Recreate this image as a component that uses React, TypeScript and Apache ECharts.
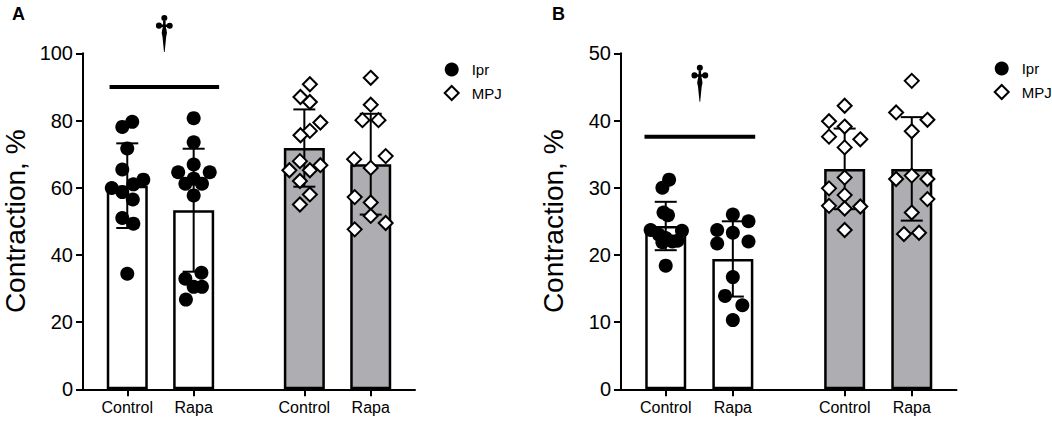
import React, { useEffect, useRef } from 'react';
import * as echarts from 'echarts';

const FONT = '"Liberation Sans", Arial, Helvetica, sans-serif';
const GRAY = '#adadb2';

// x categories (tick labels) and their positions on the x value axis
const groupLabels = ['Control', 'Rapa', 'Control', 'Rapa'];
const groupPos = [4, 10, 20, 26];

// ---------- Panel A ----------
const aMeans = [60.6, 53.3, 71.8, 67.0];
const aSDs = [12.6, 18.3, 11.5, 15.0];
const aIprControl = [79.6, 78.1, 71.7, 65.4, 62.4, 59.9, 61.0, 58.7, 56.5, 51.0, 49.3, 34.4];
const aIprControlJit = [0.45, -0.45, 0, -0.45, 1.45, -1.4, 0.55, -0.45, 0.5, -0.45, 0.55, 0];
const aIprRapa = [80.7, 73.5, 66.9, 64.6, 64.6, 62.7, 61.2, 61.2, 57.7, 34.7, 32.9, 30.5, 30.5, 26.7];
const aIprRapaJit = [0, 0, 0, -1.4, 1.45, 0, -0.75, 0.75, 0, 0.7, -0.75, 0, 0.75, -0.7];
const aMpjControl = [90.8, 87.0, 85.5, 79.4, 76.9, 75.6, 67.9, 65.2, 65.2, 66.7, 62.0, 58.0, 55.0];
const aMpjControlJit = [0.5, -0.35, 0.5, 1.45, 0.5, -0.35, -0.4, -1.35, 0.5, 1.45, -0.4, 0.5, -0.4];
const aMpjRapa = [92.7, 84.7, 80.1, 80.1, 68.5, 69.4, 65.9, 57.2, 55.6, 51.6, 49.5, 47.6];
const aMpjRapaJit = [0, 0, -0.75, 0.7, -1.5, 1.35, 0, -1.45, 0, 0, 1.35, -1.45];
const aSig = [2.4, 12.3, 90];

// ---------- Panel B ----------
const bMeans = [24.3, 19.4, 32.8, 32.8];
const bSDs = [3.6, 5.6, 6.0, 7.7];
const bIprControl = [31.2, 30.0, 26.3, 25.9, 23.7, 23.6, 23.0, 22.5, 22.0, 21.9, 22.1, 18.4];
const bIprControlJit = [0.3, -0.3, -0.2, 0.2, -1.35, 1.45, -0.6, 0, 0.6, -0.3, 1.05, 0];
const bIprRapa = [26.0, 25.0, 23.7, 23.3, 21.7, 22.0, 16.7, 13.9, 12.5, 10.3];
const bIprRapaJit = [0, 1.4, -1.4, 0, -1.4, 1.4, 0, -0.7, 0.85, 0];
const bMpjControl = [42.2, 39.9, 39.1, 37.6, 37.2, 36.0, 31.5, 29.9, 28.9, 27.3, 26.9, 27.2, 23.7];
const bMpjControlJit = [0, -1.4, 0, -1.4, 1.4, 0, 0, -1.4, 0, -1.4, 0, 1.4, 0];
const bMpjRapa = [45.9, 41.2, 40.1, 38.4, 31.3, 31.8, 31.3, 28.3, 26.3, 23.1, 23.3];
const bMpjRapaJit = [0, -1.4, 1.4, 0, -1.4, 0, 1.4, 1.4, 0, -0.7, 0.65];
const bSig = [2.1, 12.0, 37.6];

const yMax = [100, 50];
const yInterval = [20, 10];

const DAGGER =
  'M6.4 3.6 A3.6 3.6 0 1 1 13.6 3.6 A3.6 3.6 0 1 1 6.4 3.6 Z ' +
  'M0 12.8 A3.6 3.6 0 1 1 7.2 12.8 A3.6 3.6 0 1 1 0 12.8 Z ' +
  'M12.8 12.8 A3.6 3.6 0 1 1 20 12.8 A3.6 3.6 0 1 1 12.8 12.8 Z ' +
  'M3.6 11.3 L16.4 11.3 L16.4 14.3 L3.6 14.3 Z ' +
  'M8.5 3.6 L11.5 3.6 L11.5 14 L8.5 14 Z ' +
  'M8.5 13 L11.5 13 L12.6 18 Q14 22 12.2 26 L10.4 44 L9.6 44 L7.8 26 Q6 22 7.4 18 Z';

function pts(vals: number[], jit: number[], pos: number) {
  return vals.map((v, i) => [pos + jit[i], v]);
}

function renderErr(params: any, api: any) {
  const x = api.value(0);
  const m = api.value(1);
  const sd = api.value(2);
  const top = api.coord([x, m + sd]);
  const bot = api.coord([x, m - sd]);
  const hw = 11;
  const st = { stroke: '#000', lineWidth: 2 };
  return {
    type: 'group',
    children: [
      { type: 'line', shape: { x1: top[0], y1: top[1], x2: bot[0], y2: bot[1] }, style: st },
      { type: 'line', shape: { x1: top[0] - hw, y1: top[1], x2: top[0] + hw, y2: top[1] }, style: st },
      { type: 'line', shape: { x1: bot[0] - hw, y1: bot[1], x2: bot[0] + hw, y2: bot[1] }, style: st },
    ],
  };
}

function renderSig(params: any, api: any) {
  const a = api.coord([api.value(0), api.value(2)]);
  const b = api.coord([api.value(1), api.value(2)]);
  const cx = (a[0] + b[0]) / 2;
  return {
    type: 'group',
    children: [
      { type: 'line', shape: { x1: a[0], y1: a[1], x2: b[0], y2: b[1] }, style: { stroke: '#000', lineWidth: 4 } },
      {
        type: 'path',
        shape: { pathData: DAGGER, x: cx - 9, y: a[1] - 35 - 37, width: 18, height: 37 },
        style: { fill: '#000' },
      },
    ],
  };
}

function panelSeries(
  p: number,
  means: number[],
  sds: number[],
  ipr: number[][],
  mpj: number[][],
  sig: number[]
) {
  return [
    {
      type: 'bar',
      name: 'mean' + p,
      xAxisIndex: p,
      yAxisIndex: p,
      barWidth: 41,
      z: 2,
      silent: true,
      itemStyle: { borderColor: '#000', borderWidth: 2.5 },
      data: means.map((m, i) => ({
        value: [groupPos[i], m],
        itemStyle: { color: i < 2 ? '#fff' : GRAY, borderColor: '#000', borderWidth: 2.5 },
      })),
    },
    {
      type: 'custom',
      name: 'sd' + p,
      xAxisIndex: p,
      yAxisIndex: p,
      z: 3,
      silent: true,
      clip: false,
      encode: { x: 0, y: 1 },
      renderItem: renderErr,
      data: means.map((m, i) => [groupPos[i], m, sds[i]]),
    },
    {
      type: 'scatter',
      name: 'Ipr',
      xAxisIndex: p,
      yAxisIndex: p,
      z: 4,
      symbol: 'circle',
      symbolSize: 14,
      itemStyle: { color: '#000', opacity: 1 },
      data: ipr,
    },
    {
      type: 'scatter',
      name: 'MPJ',
      xAxisIndex: p,
      yAxisIndex: p,
      z: 4,
      symbol: 'diamond',
      symbolSize: 14,
      itemStyle: { color: '#fff', borderColor: '#000', borderWidth: 2, opacity: 1 },
      data: mpj,
    },
    {
      type: 'custom',
      name: 'sig' + p,
      xAxisIndex: p,
      yAxisIndex: p,
      z: 5,
      silent: true,
      clip: false,
      encode: { x: [0, 1], y: 2 },
      renderItem: renderSig,
      data: [sig],
    },
  ];
}

export default function App() {
  const ref = useRef<HTMLDivElement>(null);
  useEffect(() => {
    if (!ref.current) return;
    const chart = echarts.init(ref.current, undefined, { renderer: 'svg' });

    const xAxis = [0, 1].map((i) => ({
      type: 'value',
      gridIndex: i,
      min: 0,
      max: 30,
      axisLine: { show: true, onZero: false, lineStyle: { color: '#000', width: 2 } },
      axisTick: { show: true, customValues: groupPos, length: 7, lineStyle: { color: '#000', width: 2 } },
      axisLabel: {
        show: true,
        customValues: groupPos,
        formatter: (v: number) => {
          const k = groupPos.indexOf(Math.round(v));
          return k >= 0 ? groupLabels[k] : '';
        },
        fontSize: 16,
        color: '#000',
        fontFamily: FONT,
        margin: 10,
      },
      splitLine: { show: false },
    }));

    const yAxis = [0, 1].map((i) => ({
      type: 'value',
      gridIndex: i,
      min: 0,
      max: yMax[i],
      interval: yInterval[i],
      axisLine: { show: true, lineStyle: { color: '#000', width: 2 } },
      axisTick: { show: true, length: 7, lineStyle: { color: '#000', width: 2 } },
      axisLabel: { fontSize: 20, color: '#000', margin: 10, fontFamily: FONT },
      splitLine: { show: false },
      name: 'Contraction, %',
      nameLocation: 'middle',
      nameGap: 54,
      nameTextStyle: { fontSize: 28, color: '#000', fontFamily: FONT },
    }));

    const legendData = [
      { name: 'Ipr', icon: 'circle', itemStyle: { color: '#000', borderWidth: 0 } },
      { name: 'MPJ', icon: 'diamond', itemStyle: { color: '#fff', borderColor: '#000', borderWidth: 2 } },
    ];
    const legendBase = {
      orient: 'vertical',
      padding: 0,
      itemWidth: 14,
      itemHeight: 14,
      itemGap: 8,
      selectedMode: false,
      data: legendData,
      formatter: (name: string) => '{g|}{t|' + name + '}',
      textStyle: {
        fontSize: 15,
        color: '#000',
        fontFamily: FONT,
        rich: {
          g: { width: 8 },
          t: { fontSize: 15, color: '#000', fontFamily: FONT },
        },
      },
    };

    chart.setOption({
      animation: false,
      backgroundColor: '#fff',
      grid: [
        { left: 79, top: 53.3, width: 336, height: 336 },
        { left: 621, top: 53.3, width: 335.5, height: 336 },
      ],
      xAxis,
      yAxis,
      legend: [
        { ...legendBase, left: 443.7, top: 62 },
        { ...legendBase, left: 993.7, top: 61 },
      ],
      graphic: [
        { type: 'text', left: 12, top: 5, style: { text: 'A', font: 'bold 18px ' + FONT, fill: '#000' } },
        { type: 'text', left: 552, top: 5, style: { text: 'B', font: 'bold 18px ' + FONT, fill: '#000' } },
      ],
      series: [
        ...panelSeries(
          0,
          aMeans,
          aSDs,
          [...pts(aIprControl, aIprControlJit, groupPos[0]), ...pts(aIprRapa, aIprRapaJit, groupPos[1])],
          [...pts(aMpjControl, aMpjControlJit, groupPos[2]), ...pts(aMpjRapa, aMpjRapaJit, groupPos[3])],
          aSig
        ),
        ...panelSeries(
          1,
          bMeans,
          bSDs,
          [...pts(bIprControl, bIprControlJit, groupPos[0]), ...pts(bIprRapa, bIprRapaJit, groupPos[1])],
          [...pts(bMpjControl, bMpjControlJit, groupPos[2]), ...pts(bMpjRapa, bMpjRapaJit, groupPos[3])],
          bSig
        ),
      ],
    });
    return () => chart.dispose();
  }, []);

  return (
    <div
      ref={ref}
      style={{ position: 'absolute', left: 0, top: 0, width: 1052, height: 424, background: '#fff' }}
    />
  );
}
